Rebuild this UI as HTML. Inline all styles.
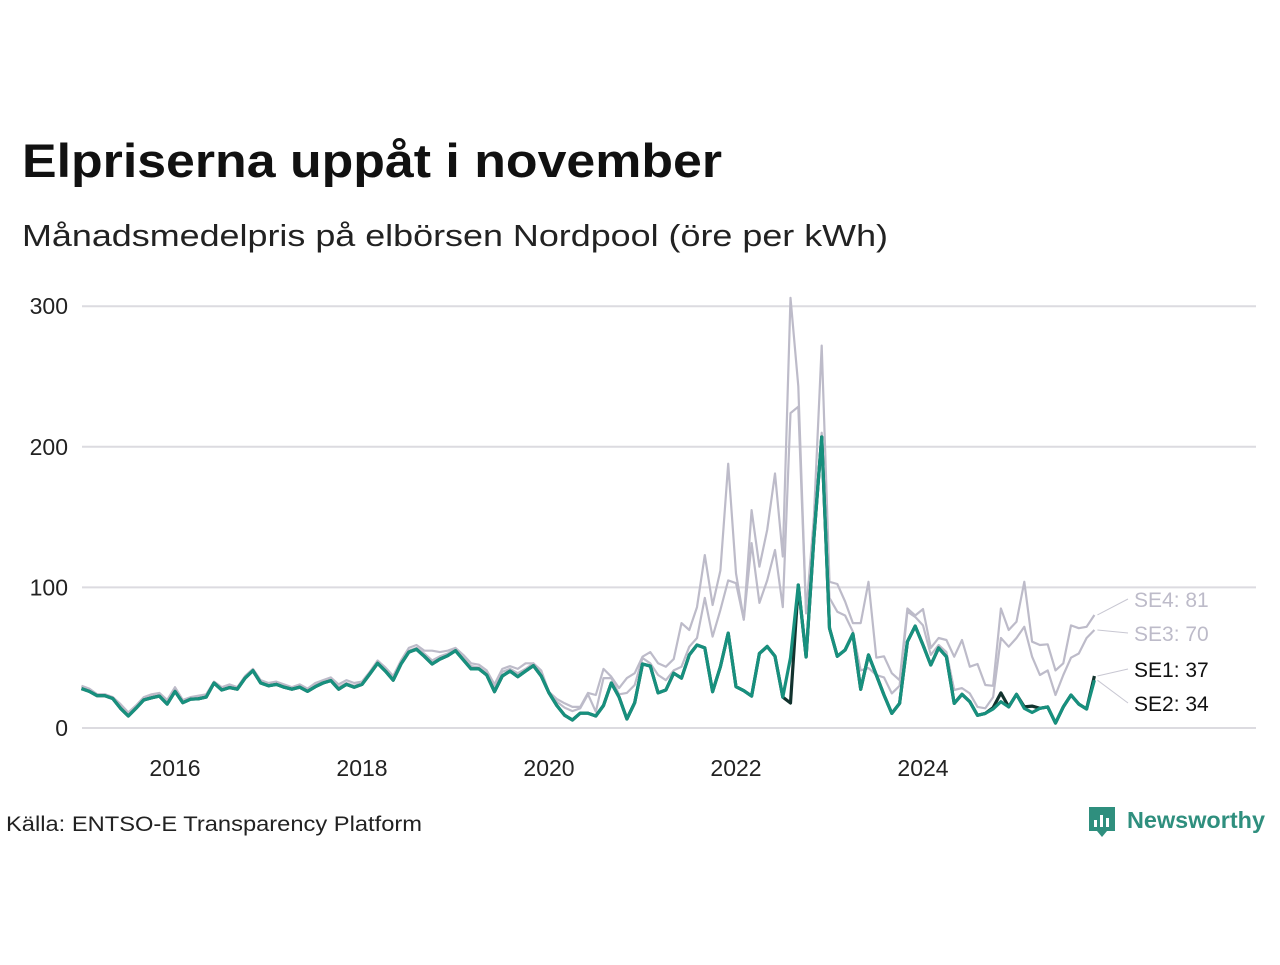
<!DOCTYPE html>
<html><head><meta charset="utf-8">
<style>
body{margin:0;background:#fff;width:1280px;height:960px;overflow:hidden;font-family:"Liberation Sans",sans-serif;}
</style></head>
<body>
<svg id="chart" width="1280" height="960" viewBox="0 0 1280 960" xmlns="http://www.w3.org/2000/svg">
<text x="22" y="177" font-family="Liberation Sans, sans-serif" font-weight="bold" font-size="47" fill="#111" textLength="700" lengthAdjust="spacingAndGlyphs">Elpriserna uppåt i november</text>
<text x="22" y="246" font-family="Liberation Sans, sans-serif" font-size="31" fill="#222" textLength="866" lengthAdjust="spacingAndGlyphs">Månadsmedelpris på elbörsen Nordpool (öre per kWh)</text>
<g id="grid"></g>
<g id="series"></g>
<g id="labels"></g>
<text x="6" y="831" font-size="21" fill="#222" textLength="416" lengthAdjust="spacingAndGlyphs">Källa: ENTSO-E Transparency Platform</text>
<g>
<path d="M1089 807 h26 v24 h-8 l-5 6 l-5 -6 h-8 z" fill="#2f8f7e"/>
<rect x="1094" y="820" width="3" height="7" fill="#fff"/>
<rect x="1100" y="815" width="3" height="12" fill="#fff"/>
<rect x="1106" y="818" width="3" height="9" fill="#fff"/>
<text x="1127" y="828" font-size="23" font-weight="bold" fill="#2f8f7e" textLength="138" lengthAdjust="spacingAndGlyphs">Newsworthy</text>
</g>
</svg>
<script>
const yTicks=[0,100,200,300];
const xTickYears=[2016,2018,2020,2022,2024];
const startYear=2015;
const se2=[28,26,23,23,21,14,8.5,14,20,21.5,22.7,17,
26,18,20.5,20.8,22,32,27,28.7,27.6,35.5,40.8,32,
30,31,29,27.6,29,26,29.4,32,33.7,27.6,31,29,
31,38.4,46,40.5,34,45.5,54,56,51,45.5,49,51.4,
55,48.4,42,42,37.7,25.8,37,40.5,36.5,40.5,44.3,37,
25,16,9,5.7,10.5,10.5,8.5,16,32,22,6.4,18,
45.5,44,25,27,39,35.5,52,59,57,25.8,43.6,67.5,
29.4,26.5,22.7,53,58,51,22,50,101.7,50.5,135,207,
71,51,55.5,67,27.5,52,37.7,23.5,10.4,17.5,61.4,72.5,
59,44.8,57,50.7,17.5,24,18.7,9,10.4,13.5,18.7,15,
24,14,11,14,15,3.5,15,23.5,17,13.5,34];
const se1=[28,26,23,23,21,14,8.5,14,20,21.5,22.7,17,
26,18,20.5,20.8,22,32,27,28.7,27.6,35.5,40.8,32,
30,31,29,27.6,29,26,29.4,32,33.7,27.6,31,29,
31,38.4,46,40.5,34,45.5,54,56,51,45.5,49,51.4,
55,48.4,42,42,37.7,25.8,37,40.5,36.5,40.5,44.3,37,
25,16,9,5.7,10.5,10.5,8.5,16,32,22,6.4,18,
45.5,44,25,27,39,35.5,52,59,57,25.8,43.6,67.5,
29.4,26.5,22.7,53,58,51,22,17.8,101.7,50.5,135,207,
71,51,55.5,67,27.5,52,37.7,23.5,10.4,17.5,61.4,72.5,
59,44.8,57,50.7,17.5,24,18.7,9,10.4,14.5,25,15,
24,15,15.6,14,15,3.5,15,23.5,17,13.5,37];
const se3=[29,27,24,24,22,16,10,15,21,23,24,19,27,19,21,22,23,32,28,30,28,36,41,33,31,32,30,28,30,27,31,33,35,29,32,30,32,39,47,41,35,46,55,57,53,48,51,53,56,50,44,43,39,29,40,42,39,42,46,39,
25.6,18.6,14.5,12,14,24,11.6,35.5,35.5,24,25,30.6,49.8,46,37.7,34,41,43.6,57.8,64,92.5,65,84,105,103,77,131.5,89,105,126.6,86,224,228.5,81.6,140,210,92.5,82.7,80,68.5,41,42.6,37.7,36,24.6,30,82.7,79,73,52,59,54,27,28.4,24.6,15,14,22,64,57.8,64,72,50.7,37.7,41,23.5,37.7,50,53,64,69.7];
const se4=[30,28,24,24,22,17,11,16,22,24,25,20,29,20,22,23,24,33,29,31,29,37,42,34,32,33,31,29,31,28,32,34,36,31,34,32,33,40,48,43,37,48,57,59,55,55,54,55,57,52,46,45,41,31,42,44,42,46,46,41,
25.6,20.6,17.6,15,15,25,23.5,42,36.5,28.4,35.5,39,50.7,54,46,43.6,49,74.6,69.7,86,123,87.5,112,188,110,77,155,114.7,141,181,122,306,243,81.6,150,272,104,102.4,90,74.6,74.6,104,50,51,39,34,85,80,84.6,57,64,62.6,50.7,62.6,43.6,45.5,30.6,30,85,69.7,75.6,104,61.4,59,59.5,41,46,73,71,72,80.4];
const seriesNames=["SE4","SE3","SE1","SE2"];
const labelTexts=["SE4: 81","SE3: 70","SE1: 37","SE2: 34"];

const NS="http://www.w3.org/2000/svg";
const x0=81.5, yearW=93.5, y0=728, yUnit=1.406;
function xScale(i){return x0+yearW*i/12;}
function xYear(y){return x0+yearW*(y-startYear);}
function yScale(v){return y0-v*yUnit;}
function mk(tag,attrs,parent){const e=document.createElementNS(NS,tag);for(const k in attrs)e.setAttribute(k,attrs[k]);parent.appendChild(e);return e;}
const grid=document.getElementById('grid');
yTicks.forEach(t=>{
  const l=mk('line',{x1:82,x2:1256,y1:yScale(t),y2:yScale(t),stroke:'#dcdbe0','stroke-width':2},grid);
  
  
  const tx=mk('text',{x:68,y:yScale(t)+8,'text-anchor':'end','font-size':23,fill:'#222'},grid);
  tx.textContent=t;
  
  
});
xTickYears.forEach(yr=>{
  const tx=mk('text',{x:xYear(yr),y:776,'text-anchor':'middle','font-size':23,fill:'#222'},grid);
  tx.textContent=yr;
  
  
});
const g=document.getElementById('series');
function pathOf(arr){return arr.map((v,i)=>(i?'L':'M')+xScale(i).toFixed(1)+' '+yScale(v).toFixed(1)).join(' ');}
const styles=[[se4,'#bdbbc9',2.2],[se3,'#bdbbc9',2.2],[se1,'#12332e',3.2],[se2,'#17907e',3.2]];
styles.forEach((s,k)=>{
  const p=mk('path',{d:pathOf(s[0]),fill:'none',stroke:s[1],'stroke-width':s[2],'stroke-linejoin':'round'},g);
  
  
});
const lg=document.getElementById('labels');
const labelY=[599,633,669,703];
const labelCol=['#bdbbc9','#bdbbc9','#111','#111'];
styles.forEach((s,k)=>{
  const arr=s[0];const last=arr.length-1;
  const ex=xScale(last)+3, ey=yScale(arr[last]);
  const c=mk('line',{x1:ex,y1:ey,x2:1128,y2:labelY[k],stroke:'#c8c7d2','stroke-width':1},lg);
  
  
  const t=mk('text',{x:1134,y:labelY[k]+8,'font-size':21,fill:labelCol[k]},lg);
  t.textContent=labelTexts[k];
  
  
});
</script>
</body></html>
